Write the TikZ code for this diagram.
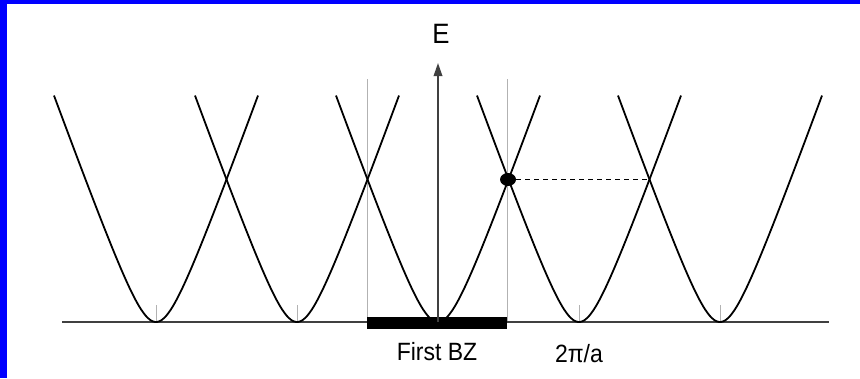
\documentclass[tikz,border=0pt]{standalone}
\usepackage{fontspec}
\setmainfont{Liberation Sans}[FakeStretch=0.92]
\usetikzlibrary{arrows.meta, shapes.geometric}

\begin{document}
\begin{tikzpicture}[
        x=1pt, y=-1pt,
        band/.style={line width=1.8pt, black},
        axisline/.style={line width=1.8pt, black!75},
        zoneline/.style={line width=0.9pt, black!30},
        mintick/.style={line width=0.9pt, black!30},
        txt/.style={font=\fontsize{25}{30}\selectfont, inner sep=0pt, anchor=base}
    ]
    % frame
    \useasboundingbox (0,0) rectangle (860,378);
    \fill[blue] (0,0) rectangle (6.5,378);
    \fill[blue] (0,0) rectangle (860,3.7);

    % points
    \coordinate (origin) at (438,322);
    \coordinate (etop) at (438,63);
    \coordinate (kleft) at (62,322);
    \coordinate (kright) at (829,322);
    \coordinate (zl) at (367,79);
    \coordinate (zr) at (507,79);
    \coordinate (cross) at (649.5,179.5);

    % zone boundaries and ticks
    \draw[zoneline] (zl) -- (zl |- origin);
    \draw[zoneline] (zr) -- (zr |- origin);
    \foreach \c in {156,297,438,579,720}
        \draw[mintick] (\c,305) -- (\c,322);

    % k axis and first zone
    \draw[axisline] (kleft) -- (kright);
    \fill (367,316.5) rectangle (507,328.5);

    % bands
    \foreach \c in {156,297,438,579,720}
        \draw[band] plot[domain=-102:102, samples=90, smooth]
            ({\c+\x}, {322-2.75*(sqrt(\x*\x+484)-22)});

    % energy axis
    \draw[axisline, -{Triangle[length=13pt, width=8.5pt]}] (origin) -- (etop);

    % state
    \node[ellipse, fill, minimum width=16pt, minimum height=13pt, inner sep=0pt] (dot) at (508,179.5) {};
    \draw[line width=1.4pt, dash pattern=on 5pt off 4pt] (dot.east) -- (cross);

    % labels
    \node[txt, font=\fontsize{28}{32}\selectfont] (elab) at (441,43) {E};
    \node[txt] (bz) at (437,360) {First BZ};
    \node[txt] (gvec) at (579,362) {2π/a};
\end{tikzpicture}
\end{document}
